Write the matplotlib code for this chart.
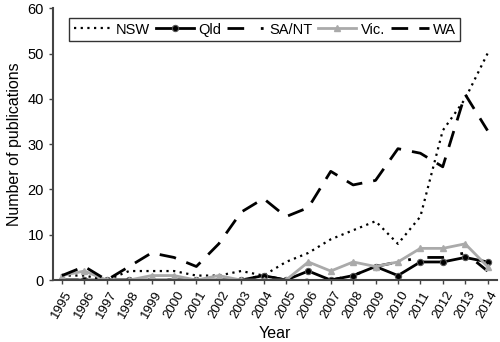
import matplotlib
matplotlib.use("Agg")
import matplotlib.pyplot as plt
import numpy as np

plt.rcParams['font.family'] = ['Liberation Sans', 'DejaVu Sans']

years = np.arange(1995, 2015)
nsw = [1, 1, 0, 2, 2, 2, 1, 1, 2, 1, 4, 6, 9, 11, 13, 8, 14, 33, 40, 50]
qld = [0, 0, 0, 0, 0, 0, 0, 0, 0, 1, 0, 2, 0, 1, 3, 1, 4, 4, 5, 4]
sant = [0, 0, 0, 0, 0, 0, 0, 0, 0, 1, 0, 0, 0, 1, 3, 4, 5, 5, 6, 2]
vic = [1, 2, 0, 0, 1, 1, 0, 1, 0, 0, 0, 4, 2, 4, 3, 4, 7, 7, 8, 3]
wa = [1, 3, 0, 3, 6, 5, 3, 8, 15, 18, 14, 16, 24, 21, 22, 29, 28, 25, 41, 33]

fig = plt.figure(figsize=(5, 3.42), dpi=100)
ax = fig.add_axes([0.106, 0.181, 0.887, 0.795])

ax.plot(years, nsw, color='black', lw=1.6, linestyle=(0, (1, 2)), label='NSW')
ax.plot(years, qld, color='black', lw=2, marker='o', markersize=4.5,
        markeredgecolor='#555555', markeredgewidth=0.8, label='Qld')
ax.plot(years, sant, color='black', lw=2, linestyle=(0, (6, 6, 1, 6)), label='SA/NT')
ax.plot(years, vic, color='#aaaaaa', lw=2, marker='^', markersize=5, label='Vic.')
ax.plot(years, wa, color='black', lw=2, linestyle=(0, (6, 4)), label='WA')

ax.set_xlim(1994.6, 2014.4)
ax.set_ylim(0, 60)
ax.set_yticks(np.arange(0, 61, 10))
ax.set_xticks(years)
ax.set_xticklabels([str(y) for y in years], rotation=60, fontsize=9.5)
ax.tick_params(axis='y', labelsize=10.5)
ax.tick_params(direction='out', length=3, width=1, color='#444444')

for s in ['top', 'right']:
    ax.spines[s].set_visible(False)
for s in ['left', 'bottom']:
    ax.spines[s].set_color('#444444')
    ax.spines[s].set_linewidth(1.5)

ax.set_xlabel('Year', fontsize=11.5)
ax.set_ylabel('Number of publications', fontsize=11.5)

leg = ax.legend(loc='upper left', bbox_to_anchor=(0.02, 0.99), ncol=5, fontsize=10.5,
                handlelength=2.6, handletextpad=0.3, columnspacing=0.4,
                fancybox=False, edgecolor='black', borderpad=0.3)
leg.get_frame().set_linewidth(1)

fig.savefig('out.png', dpi=100)
